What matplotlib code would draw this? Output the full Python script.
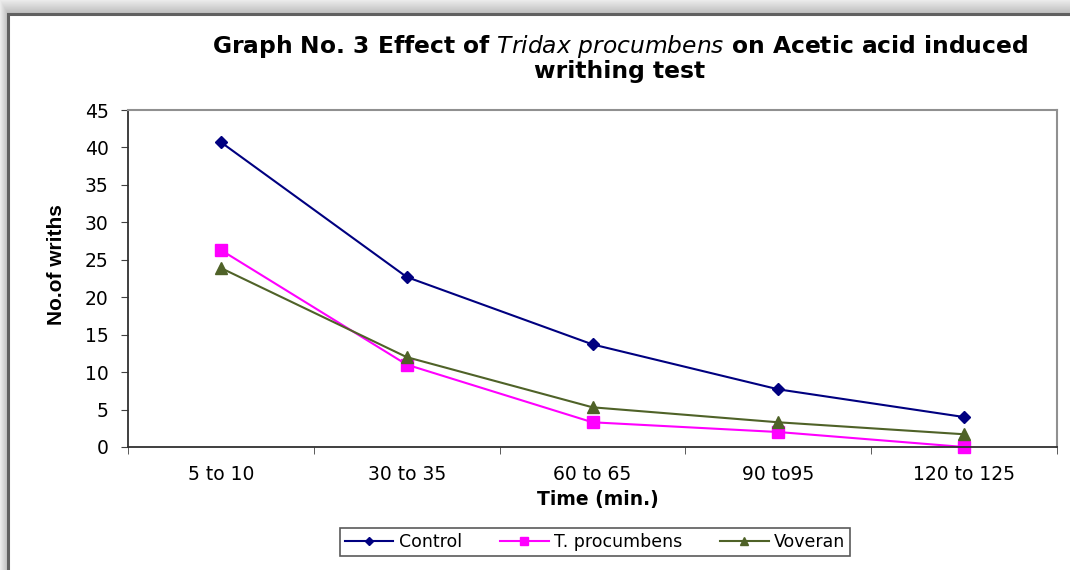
import numpy as np
import matplotlib
matplotlib.use("Agg")
import matplotlib.pyplot as plt
from matplotlib.patches import Rectangle

categories = ["5 to 10", "30 to 35", "60 to 65", "90 to95", "120 to 125"]
control = [40.7, 22.7, 13.7, 7.7, 4.0]
tproc = [26.3, 11.0, 3.3, 2.0, 0.0]
voveran = [23.9, 12.0, 5.3, 3.3, 1.7]
y_ticks = [0, 5, 10, 15, 20, 25, 30, 35, 40, 45]

plt.rcParams['font.family'] = ['DejaVu Sans']
plt.rcParams['mathtext.fontset'] = 'custom'
plt.rcParams['mathtext.it'] = 'DejaVu Sans:italic'
plt.rcParams['mathtext.rm'] = 'DejaVu Sans:bold'

W, H = 1070, 570
fig = plt.figure(figsize=(W / 100, H / 100), dpi=100)

# background shadow frame
bg = fig.add_axes([0, 0, 1, 1], zorder=-10)
yy, xx = np.mgrid[0:H, 0:W]
dist = np.minimum(yy / 14.0, xx / 8.0)
img = np.where(dist < 1, 0.72 + 0.2 * (1 - dist), 1.0)
bg.imshow(img, cmap='gray', vmin=0, vmax=1, extent=[0, W, H, 0], aspect='auto', interpolation='bilinear')
bg.add_patch(Rectangle((8, 14), W + 20, H + 20, facecolor='white', edgecolor='#606060', linewidth=2.2))
bg.set_xlim(0, W)
bg.set_ylim(H, 0)
bg.axis('off')

L, R, T, B = 128, 1057, 110, 447
ax = fig.add_axes([L / W, 1 - B / H, (R - L) / W, (B - T) / H])
x = np.arange(len(categories))
ax.plot(x, control, color='#000080', marker='D', markersize=6, linewidth=1.5, label='Control')
ax.plot(x, tproc, color='#FF00FF', marker='s', markersize=8, linewidth=1.5, label='T. procumbens', clip_on=False)
ax.plot(x, voveran, color='#4F6228', marker='^', markersize=8, linewidth=1.5, label='Voveran', clip_on=False)

ax.set_xlim(-0.5, len(categories) - 0.5)
ax.set_ylim(0, 45)
ax.set_yticks(y_ticks)
ax.set_yticklabels([str(v) for v in y_ticks], fontsize=13.5)
ax.set_xticks(x)
ax.set_xticklabels(categories, fontsize=13.5)
ax.tick_params(axis='x', which='major', length=0, pad=13)
ax.set_xticks(np.arange(-0.5, len(categories), 1), minor=True)
ax.tick_params(axis='x', which='minor', length=5, direction='out', color='#404040')
ax.tick_params(axis='y', length=5, direction='out', color='#404040', pad=9)
for s in ['top', 'right']:
    ax.spines[s].set_color('#909090')
    ax.spines[s].set_linewidth(1.5)
for s in ['left', 'bottom']:
    ax.spines[s].set_color('#303030')
    ax.spines[s].set_linewidth(1.3)

fig.text(57 / W, 1 - 265 / H, 'No.of wriths', rotation=90, ha='center', va='center',
         fontsize=15, fontweight='bold', family=['Liberation Sans', 'DejaVu Sans'])
fig.text(598 / W, 1 - 499 / H, 'Time (min.)', ha='center', va='center', fontsize=13.5, fontweight='bold')

fig.text(620 / W, 1 - 47 / H, r'Graph No. 3 Effect of $\mathit{Tridax\ procumbens}$ on Acetic acid induced',
         ha='center', va='center', fontsize=16.8, fontweight='bold')
fig.text(620 / W, 1 - 72 / H, 'writhing test', ha='center', va='center', fontsize=16.8, fontweight='bold')

leg = fig.legend(loc='center', bbox_to_anchor=(595 / W, 1 - 542 / H), ncol=3, fontsize=12.5,
                 frameon=True, fancybox=False, edgecolor='#303030', handlelength=2.8,
                 columnspacing=2.2, handletextpad=0.3, borderpad=0.3, markerscale=0.75)
leg.get_frame().set_linewidth(1.2)

fig.savefig('out.png', dpi=100)
